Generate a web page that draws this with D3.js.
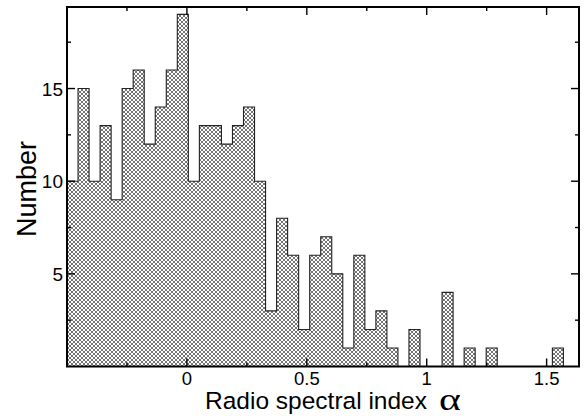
<!DOCTYPE html>
<html><head><meta charset="utf-8">
<script src="https://cdn.jsdelivr.net/npm/d3@7"></script>
<style>body{margin:0;background:#fff}</style>
</head><body>
<svg id="c" width="588" height="416"></svg>
<script>
const binStart = -0.5;
const binWidth = 0.046;
const counts = [10,15,10,13,9,15,16,12,14,16,19,10,13,13,12,13,14,10,3,8,6,2,6,7,5,1,6,2,3,1,0,2,0,0,4,0,1,0,1,0,0,0,0,0,1];
const xMajor = [0,0.5,1,1.5];
const xMinor = [-0.25,0.25,0.75,1.25];
const yMajor = [5,10,15];
const yMinor = [2.5,7.5,12.5,17.5];
const xLabel = "Radio spectral index";
const xSymbol = "α";
const yLabel = "Number";

const L=67, R=579, T=7, B=366.5;
const svg = d3.select("#c");
const x = d3.scaleLinear().domain([-0.5,1.635]).range([L,R]);
const y = d3.scaleLinear().domain([0,19.4]).range([B,T]);

const defs = svg.append("defs");
const pat = defs.append("pattern").attr("id","hatch").attr("patternUnits","userSpaceOnUse")
  .attr("width",4).attr("height",4);
pat.append("rect").attr("width",4).attr("height",4).attr("fill","#fff");
pat.append("path").attr("d","M0,0L4,4M0,4L4,0M-1,1L1,-1M3,5L5,3M-1,3L1,5M3,-1L5,1")
  .attr("stroke","#444").attr("stroke-width",0.75).attr("fill","none");

// step outline
let pts = [];
counts.forEach((c,i)=>{
  const x0 = binStart + i*binWidth, x1 = x0 + binWidth;
  pts.push([x(x0), y(c)]); pts.push([x(x1), y(c)]);
});
const first = binStart, last = binStart + counts.length*binWidth;
let d = `M${x(first)},${y(0)}` + pts.map(p=>`L${p[0]},${p[1]}`).join("") + `L${x(last)},${y(0)}Z`;
svg.append("path").attr("d",d).attr("fill","url(#hatch)").attr("stroke","#222").attr("stroke-width",1.1);

// frame
const g = svg.append("g").attr("stroke","#000").attr("stroke-width",1.4);
xMajor.forEach(v=>{
  g.append("line").attr("x1",x(v)).attr("x2",x(v)).attr("y1",B).attr("y2",B-8);
  g.append("line").attr("x1",x(v)).attr("x2",x(v)).attr("y1",T).attr("y2",T+8);
});
xMinor.forEach(v=>{
  g.append("line").attr("x1",x(v)).attr("x2",x(v)).attr("y1",B).attr("y2",B-4);
  g.append("line").attr("x1",x(v)).attr("x2",x(v)).attr("y1",T).attr("y2",T+4);
});
yMajor.forEach(v=>{
  g.append("line").attr("x1",L).attr("x2",L+8).attr("y1",y(v)).attr("y2",y(v));
  g.append("line").attr("x1",R).attr("x2",R-8).attr("y1",y(v)).attr("y2",y(v));
});
yMinor.forEach(v=>{
  g.append("line").attr("x1",L).attr("x2",L+4).attr("y1",y(v)).attr("y2",y(v));
  g.append("line").attr("x1",R).attr("x2",R-4).attr("y1",y(v)).attr("y2",y(v));
});
svg.append("rect").attr("x",L).attr("y",T).attr("width",R-L).attr("height",B-T)
  .attr("fill","none").attr("stroke","#000").attr("stroke-width",2);

const font = "'Liberation Sans', Arial, Helvetica, sans-serif";
svg.append("g").selectAll("text").data(xMajor).join("text")
  .attr("x",d=>x(d)).attr("y",385).attr("text-anchor","middle")
  .attr("font-family",font).attr("font-size",18.5).text(d=>d3.format("")(d));
svg.append("g").selectAll("text").data(yMajor).join("text")
  .attr("x",63).attr("y",d=>y(d)+7).attr("text-anchor","end")
  .attr("font-family",font).attr("font-size",19).text(d=>d);

svg.append("text").attr("x",205).attr("y",409).attr("text-anchor","start")
  .attr("font-family",font).attr("font-size",24.5).text(xLabel);
svg.append("text").attr("transform","translate(439,410) scale(1.3,1)")
  .attr("font-family","'Liberation Serif', 'DejaVu Serif', serif").attr("font-size",32).text(xSymbol);

svg.append("text").attr("transform","translate(36,189) rotate(-90)").attr("text-anchor","middle")
  .attr("font-family",font).attr("font-size",27).text(yLabel);
</script>
</body></html>
